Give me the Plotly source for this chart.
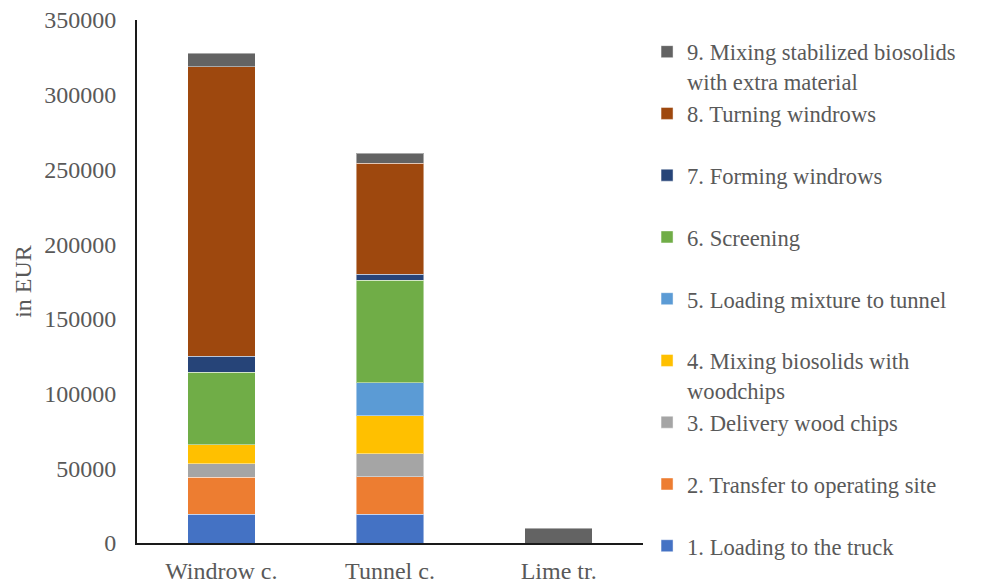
import plotly.graph_objects as go

# Treatment options shown on the x axis
categories = ["Windrow c.", "Tunnel c.", "Lime tr."]

# Cost components (EUR) per treatment option, stacked bottom to top
step_names = [
    "1. Loading to the truck",
    "2. Transfer to operating site",
    "3. Delivery wood chips",
    "4. Mixing biosolids with<br>woodchips",
    "5. Loading mixture to tunnel",
    "6. Screening",
    "7. Forming windrows",
    "8. Turning windrows",
    "9. Mixing stabilized biosolids<br>with extra material",
]
loading_truck = [19200, 19200, 0]
transfer_site = [24800, 25000, 0]
delivery_chips = [8900, 15600, 0]
mixing_woodchips = [12700, 25400, 0]
loading_tunnel = [0, 22100, 0]
screening = [48600, 68500, 0]
forming_windrows = [10900, 4000, 0]
turning_windrows = [193600, 74300, 0]
mixing_extra = [9000, 6700, 10000]

series_values = [
    loading_truck, transfer_site, delivery_chips, mixing_woodchips,
    loading_tunnel, screening, forming_windrows, turning_windrows, mixing_extra,
]
colors = ["#4472C4", "#ED7D31", "#A5A5A5", "#FFC000", "#5B9BD5",
          "#70AD47", "#264478", "#9E480E", "#636363"]

y_ticks = [0, 50000, 100000, 150000, 200000, 250000, 300000, 350000]

FONT = "Liberation Serif, Times New Roman, serif"
TEXT_GREY = "#595959"

fig = go.Figure()
for i, (name, vals, col) in enumerate(zip(step_names, series_values, colors)):
    # legend entries above the bottom one take two lines, so they are evenly spaced
    label = name if ("<br>" in name or i == 0) else name + "<br> "
    fig.add_trace(go.Bar(
        x=categories, y=vals, name=label,
        marker=dict(color=col, line=dict(color="rgba(255,255,255,0.45)", width=1)),
    ))

fig.update_layout(
    barmode="stack",
    bargap=0.6,
    width=987, height=587,
    margin=dict(l=137, r=344, t=20, b=44),
    paper_bgcolor="white", plot_bgcolor="white",
    font=dict(family=FONT, size=24, color=TEXT_GREY),
    showlegend=True,
    legend=dict(
        traceorder="reversed",
        x=1.008, xanchor="left", y=0.98, yanchor="top",
        valign="top",
        itemwidth=30,
        maxheight=700,
        font=dict(family=FONT, size=22.6, color=TEXT_GREY),
        bgcolor="rgba(0,0,0,0)",
        tracegroupgap=0,
    ),
    xaxis=dict(
        showline=True, linecolor="#1a1a1a", linewidth=2,
        ticks="", showgrid=False, automargin=False,
        ticklabelstandoff=5,
        tickfont=dict(family=FONT, size=24, color=TEXT_GREY),
    ),
    yaxis=dict(
        range=[0, 350000],
        tickvals=y_ticks, ticktext=[str(v) for v in y_ticks],
        showline=True, linecolor="#1a1a1a", linewidth=2,
        ticks="", showgrid=False, zeroline=False, automargin=False,
        ticklabelstandoff=14,
        tickfont=dict(family=FONT, size=24, color=TEXT_GREY),
        title=dict(text="in EUR", font=dict(family=FONT, size=24, color=TEXT_GREY), standoff=6),
    ),
)

fig.write_html("out.html")
